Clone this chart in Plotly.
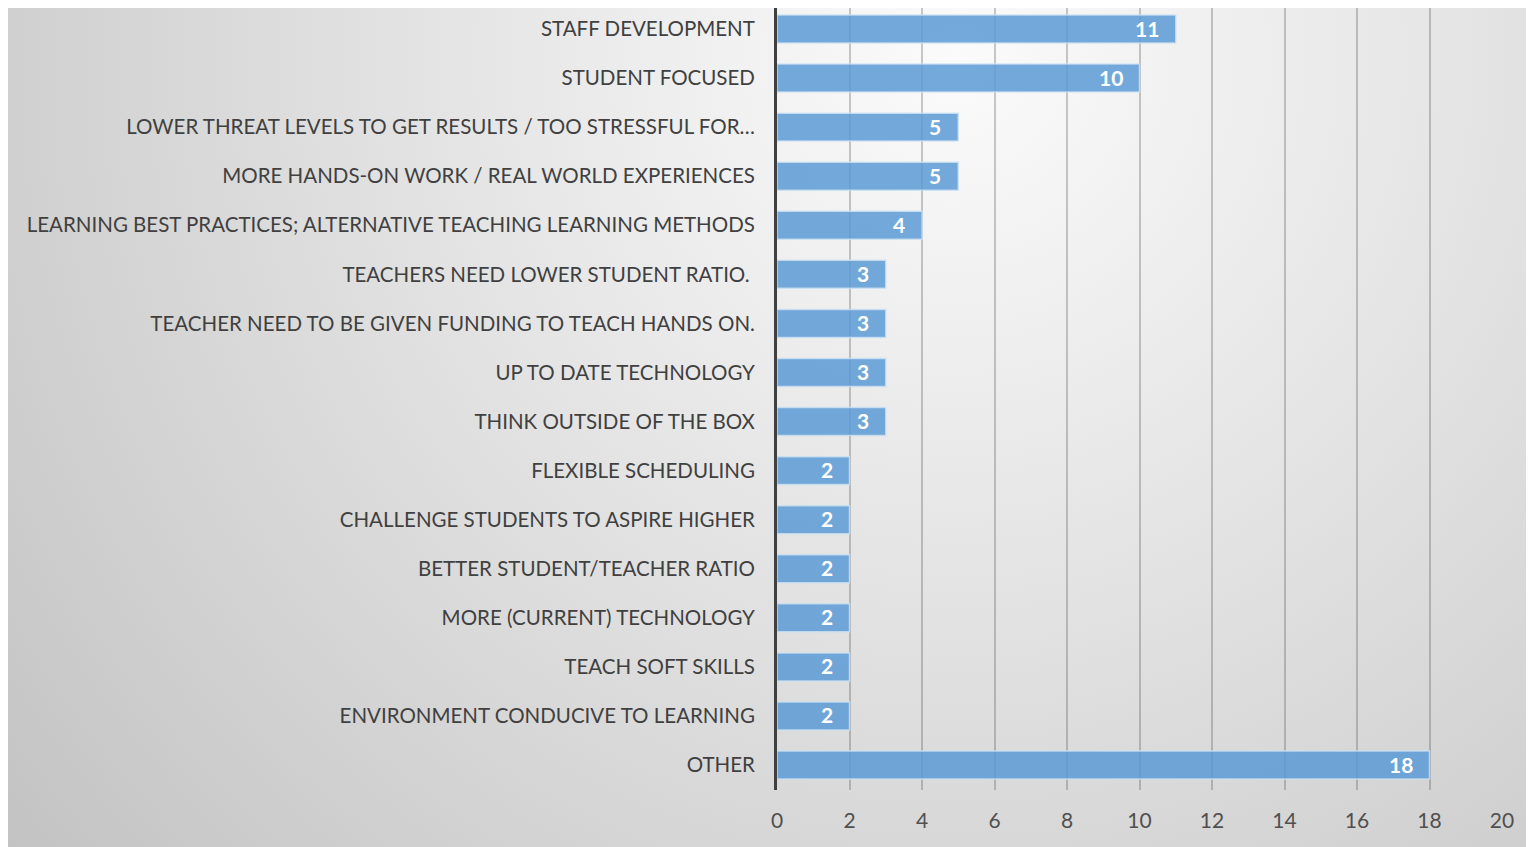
import base64
import plotly.graph_objects as go

categories = [
    "STAFF DEVELOPMENT",
    "STUDENT FOCUSED",
    "LOWER THREAT LEVELS TO GET RESULTS / TOO STRESSFUL FOR…",
    "MORE HANDS-ON WORK / REAL WORLD EXPERIENCES",
    "LEARNING BEST PRACTICES; ALTERNATIVE TEACHING LEARNING METHODS",
    "TEACHERS NEED LOWER STUDENT RATIO. ",
    "TEACHER NEED TO BE GIVEN FUNDING TO TEACH HANDS ON.",
    "UP TO DATE TECHNOLOGY",
    "THINK OUTSIDE OF THE BOX",
    "FLEXIBLE SCHEDULING",
    "CHALLENGE STUDENTS TO ASPIRE HIGHER",
    "BETTER STUDENT/TEACHER RATIO",
    "MORE (CURRENT) TECHNOLOGY",
    "TEACH SOFT SKILLS",
    "ENVIRONMENT CONDUCIVE TO LEARNING",
    "OTHER",
]
values = [11, 10, 5, 5, 4, 3, 3, 3, 3, 2, 2, 2, 2, 2, 2, 18]
x_ticks = [0, 2, 4, 6, 8, 10, 12, 14, 16, 18, 20]

OFF = 8  # page body margin
W, H = 1534 - OFF, 847 - OFF
L, R, T, B = 769, 32, 0, 57
pw, ph = W - L - R, H - T - B
step = 49.07
y_top = -21.0 / step
y_bot = y_top + ph / step

svg = (
    '<svg xmlns="http://www.w3.org/2000/svg" width="1527" height="847" '
    'viewBox="0 0 1527 847" preserveAspectRatio="none">'
    '<defs><radialGradient id="g" gradientUnits="userSpaceOnUse" cx="950" cy="60" r="1250">'
    '<stop offset="0" stop-color="#fbfbfb"/>'
    '<stop offset="0.45" stop-color="#e2e2e2"/>'
    '<stop offset="1" stop-color="#c2c2c2"/>'
    '</radialGradient></defs>'
    '<rect x="0" y="0" width="1527" height="847" fill="url(#g)"/></svg>'
)
src = "data:image/svg+xml;base64," + base64.b64encode(svg.encode()).decode()

fig = go.Figure()
fig.add_trace(go.Bar(
    x=values,
    y=categories,
    orientation="h",
    marker=dict(color="rgba(91,155,213,0.85)",
                line=dict(color="rgba(205,225,243,0.8)", width=1.5)),
    width=0.57,
    hoverinfo="x+y",
))

annotations = [
    dict(x=v, y=c, xref="x", yref="y", text=f"<b>{v}</b>", showarrow=False,
         xanchor="right", yanchor="middle", xshift=-15, yshift=1,
         font=dict(family="Lato", size=21, color="white"))
    for c, v in zip(categories, values)
]

fig.update_layout(
    width=W, height=H,
    margin=dict(l=L, r=R, t=T, b=B, pad=0),
    paper_bgcolor="white",
    plot_bgcolor="rgba(0,0,0,0)",
    showlegend=False,
    font=dict(family="Lato", color="#404040"),
    annotations=annotations,
    images=[dict(
        source=src, xref="paper", yref="paper",
        x=(-1 - L) / pw, y=(ph + T + OFF) / ph,
        sizex=(W + 1) / pw, sizey=(H + OFF) / ph,
        xanchor="left", yanchor="top", sizing="stretch", layer="below",
    )],
)
fig.update_xaxes(
    range=[0, 20], tickvals=x_ticks, ticktext=[str(t) for t in x_ticks],
    showgrid=True, gridcolor="rgba(80,80,80,0.30)", gridwidth=2,
    zeroline=False, showline=False, ticks="",
    tickfont=dict(family="Lato", size=21, color="#505050"),
    ticklabelstandoff=16,
)
fig.update_yaxes(
    range=[y_bot, y_top], showgrid=False, zeroline=False,
    showline=True, linecolor="#404040", linewidth=3,
    ticks="", ticklabelstandoff=15,
    tickfont=dict(family="Lato", size=20.5, color="#404040"),
)

fig.write_html("out.html")
